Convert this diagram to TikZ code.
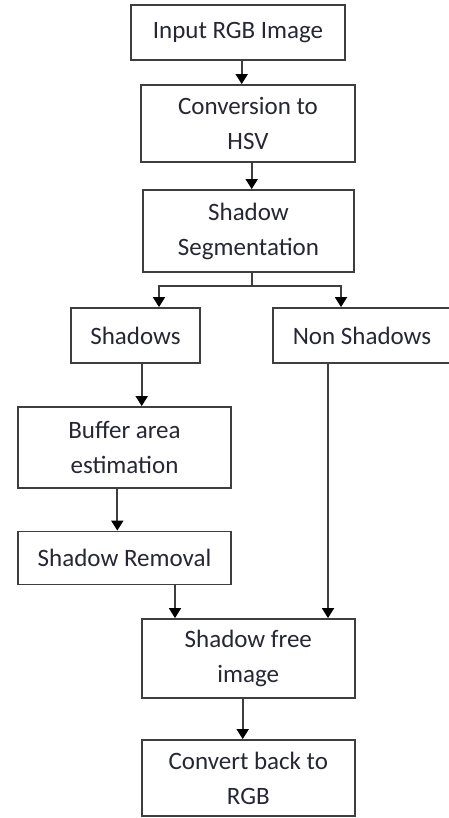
\documentclass[tikz,border=0pt]{standalone}
\usepackage{fontspec}
\setmainfont{Carlito}
\usetikzlibrary{arrows.meta,positioning}
\definecolor{LineGray}{RGB}{62,62,62}
\definecolor{TextInk}{RGB}{38,38,52}

\begin{document}
\begin{tikzpicture}[x=1pt,y=-1pt,font=\fontsize{25}{35}\selectfont,
  box/.style={draw=LineGray,line width=1.8pt,align=center,text=TextInk,inner sep=0pt},
  link/.style={draw=LineGray,line width=1.8pt},
  arr/.style={link,-{Triangle[length=10pt,width=12pt,color=black]}}]
\useasboundingbox (0,0) rectangle (449,818);
% boxes, top to bottom
\node[box,minimum width=214pt,minimum height=55pt] (inp) at (238,32.5){Input RGB Image};
\node[box,minimum width=214pt,minimum height=77pt] (hsv) at (248,123.5){Conversion to\\HSV};
\node[box,minimum width=211pt,minimum height=82pt] (seg) at (248.5,231){Shadow\\Segmentation};
\node[box,minimum width=129pt,minimum height=55pt] (shd) at (135.5,335.5){Shadows};
\node[box,minimum width=178pt,minimum height=55pt] (nsh) at (362,335.5){Non Shadows};
\node[box,minimum width=213pt,minimum height=81pt] (buf) at (124.5,447.5){Buffer area\\estimation};
\node[box,minimum width=213pt,minimum height=53pt] (rem) at (124.5,558){Shadow Removal};
\node[box,minimum width=213pt,minimum height=79pt] (sfi) at (248.3,658.5){Shadow free\\image};
\node[box,minimum width=213pt,minimum height=76pt] (cvt) at (248.3,778){Convert back to\\RGB};
% connectors
\draw[arr] ([xshift=3.7pt]inp.south) -- ([xshift=3.7pt]inp.south |- hsv.north);
\draw[arr] ([xshift=3.7pt]hsv.south) -- ([xshift=3.7pt]hsv.south |- seg.north);
\draw[link] ([xshift=3.5pt]seg.south) -- ++(0,13) coordinate (fork);
\draw[arr] (fork) -| ([xshift=23.5pt]shd.north);
\draw[arr] (fork) -| ([xshift=-21pt]nsh.north);
\draw[arr] ([xshift=6.2pt]shd.south) -- ([xshift=6.2pt]shd.south |- buf.north);
\draw[arr] ([xshift=-7.2pt]buf.south) -- ([xshift=-7.2pt]buf.south |- rem.north);
\draw[arr] ([xshift=50.5pt]rem.south) -- ([xshift=50.5pt]rem.south |- sfi.north);
\draw[arr] ([xshift=-34pt]nsh.south) -- ([xshift=-34pt]nsh.south |- sfi.north);
\draw[arr] ([xshift=-5.6pt]sfi.south) -- ([xshift=-5.6pt]sfi.south |- cvt.north);
\end{tikzpicture}
\end{document}
